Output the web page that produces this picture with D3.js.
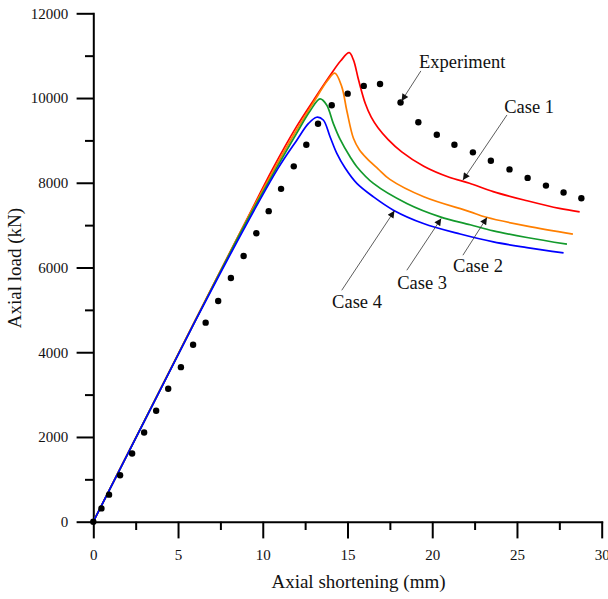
<!DOCTYPE html>
<html>
<head>
<meta charset="utf-8">
<script src="https://cdn.jsdelivr.net/npm/d3@7/dist/d3.min.js"></script>
<style>
  body { margin: 0; background: #fff; }
  svg { display: block; font-family: "Liberation Serif", "Times New Roman", serif; }
  .axis path, .axis line { stroke: #000; stroke-width: 2; }
  .axis text { font-size: 15px; fill: #111; font-family: "Liberation Serif", serif; }
</style>
</head>
<body>
<script>
// experiment (black dots)
var expX = [0, 0.48, 0.93, 1.58, 2.29, 3.0, 3.71, 4.42, 5.17, 5.89, 6.63, 7.37, 8.12, 8.87, 9.62, 10.35,
            11.08, 11.83, 12.57, 13.26, 14.07, 15.01, 15.96, 16.92, 18.13, 19.18, 20.27, 21.31, 22.40,
            23.46, 24.56, 25.63, 26.71, 27.75, 28.80];
var expY = [0, 314, 638, 1095, 1608, 2104, 2618, 3138, 3648, 4178, 4698, 5209, 5753, 6273, 6810, 7330,
            7857, 8387, 8898, 9394, 9829, 10104, 10286, 10333, 9896, 9427, 9134, 8898, 8718,
            8519, 8316, 8115, 7933, 7772, 7633];

// case 1 (red)
var c1X = [0, 3, 6, 9, 10.6, 12, 13, 14, 14.6, 15.1, 15.35, 15.65, 16.05, 16.4, 16.8, 17.4, 18.2, 19.5, 21.0, 22.2, 23.6, 25.6, 27.5, 28.7];
var c1Y = [0, 2370, 4740, 7090, 8340, 9330, 9950, 10550, 10880, 11070, 10900, 10430, 9870, 9550, 9300, 9020, 8730, 8390, 8130, 7990, 7790, 7575, 7395, 7315];
// case 2 (orange)
var c2X = [0, 3, 6, 9, 10.7, 12, 13, 13.8, 14.25, 14.66, 14.96, 15.35, 15.7, 16.14, 16.8, 17.5, 19.5, 22.2, 23.2, 25.6, 28.3];
var c2Y = [0, 2370, 4740, 7080, 8340, 9250, 9900, 10400, 10586, 10270, 9700, 9050, 8780, 8575, 8330, 8080, 7670, 7320, 7185, 6975, 6786];
// case 3 (green)
var c3X = [0, 3, 6, 9, 10.8, 12, 12.8, 13.38, 13.77, 14.16, 14.56, 15.15, 15.55, 16.53, 18.5, 20.47, 22.24, 23.61, 25.59, 27.95];
var c3Y = [0, 2365, 4730, 7050, 8340, 9170, 9700, 9978, 9836, 9403, 9030, 8614, 8380, 7985, 7512, 7196, 7010, 6864, 6708, 6550];
// case 4 (blue)
var c4X = [0, 3, 6, 9, 10.9, 12, 12.7, 13.18, 13.57, 13.97, 14.37, 14.86, 15.55, 16.53, 17.71, 19.48, 21.65, 23.61, 25.59, 27.75];
var c4Y = [0, 2360, 4720, 6990, 8340, 9000, 9400, 9546, 9482, 9087, 8694, 8347, 7985, 7668, 7354, 7039, 6790, 6604, 6471, 6344];

var xMajor = [0, 5, 10, 15, 20, 25, 30];
var xMinor = [2.5, 7.5, 12.5, 17.5, 22.5, 27.5];
var yMajor = [0, 2000, 4000, 6000, 8000, 10000, 12000];
var yMinor = [1000, 3000, 5000, 7000, 9000, 11000];

// labels with arrows: text position, arrow start, arrow tip (data units)
var labelNames = ["Experiment", "Case 1", "Case 2", "Case 3", "Case 4"];
var labelPos   = [[19.22, 10712], [24.25, 9655], [21.23, 5895], [17.93, 5502], [14.09, 5053]];
var arrowFrom  = [[19.33, 10640], [24.41, 9600], [21.81, 6290], [18.5, 5935], [14.66, 5462]];
var arrowTo    = [[18.19, 9931], [21.81, 8063], [23.23, 7181], [20.53, 7157], [17.77, 7337]];

var W = 608, H = 599;

var svg = d3.select("body").append("svg")
    .attr("width", W)
    .attr("height", H);

var x = d3.scaleLinear().domain([0, 30]).range([93.3, 601.7]);
var y = d3.scaleLinear().domain([0, 12000]).range([521.7, 13.3]);

// minor ticks
svg.append("g")
   .attr("class", "axis")
   .attr("transform", "translate(0," + y(0) + ")")
   .call(d3.axisBottom(x).tickValues(xMinor).tickSize(8.3).tickSizeOuter(0).tickFormat(""))
   .select(".domain").remove();
svg.append("g")
   .attr("class", "axis")
   .attr("transform", "translate(" + x(0) + ",0)")
   .call(d3.axisLeft(y).tickValues(yMinor).tickSize(8.3).tickSizeOuter(0).tickFormat(""))
   .select(".domain").remove();

// major ticks + axis lines
svg.append("g")
   .attr("class", "axis")
   .attr("transform", "translate(0," + y(0) + ")")
   .call(d3.axisBottom(x).tickValues(xMajor).tickSize(16.7).tickSizeOuter(0).tickPadding(11).tickFormat(d3.format("d")));
svg.append("g")
   .attr("class", "axis")
   .attr("transform", "translate(" + x(0) + ",0)")
   .call(d3.axisLeft(y).tickValues(yMajor).tickSize(16.7).tickSizeOuter(0).tickPadding(8.3).tickFormat(d3.format("d")));

svg.selectAll(".domain").attr("stroke-linecap", "square");

// axis titles
svg.append("text")
   .attr("x", 358.5)
   .attr("y", 588)
   .attr("text-anchor", "middle")
   .attr("font-size", 19)
   .attr("fill", "#111")
   .text("Axial shortening (mm)");

svg.append("text")
   .attr("transform", "translate(21,268) rotate(-90)")
   .attr("text-anchor", "middle")
   .attr("font-size", 19)
   .attr("fill", "#111")
   .text("Axial load (kN)");

// curves
var line = d3.line()
    .x(function(d) { return x(d[0]); })
    .y(function(d) { return y(d[1]); })
    .curve(d3.curveCatmullRom.alpha(0.5));

var cases = [
  {xs: c1X, ys: c1Y, color: "#ff0000"},
  {xs: c2X, ys: c2Y, color: "#ff7f00"},
  {xs: c3X, ys: c3Y, color: "#139a2c"},
  {xs: c4X, ys: c4Y, color: "#0000ff"}
];

cases.forEach(function(c) {
  var pts = c.xs.map(function(v, i) { return [v, c.ys[i]]; });
  svg.append("path")
     .datum(pts)
     .attr("fill", "none")
     .attr("stroke", c.color)
     .attr("stroke-width", 1.7)
     .attr("d", line);
});

// experiment dots
var expPts = expX.map(function(v, i) { return [v, expY[i]]; });
svg.selectAll(".dot")
   .data(expPts)
   .enter().append("circle")
   .attr("class", "dot")
   .attr("cx", function(d) { return x(d[0]); })
   .attr("cy", function(d) { return y(d[1]); })
   .attr("r", 3.2)
   .attr("fill", "#000");

// arrow marker
svg.append("defs").append("marker")
   .attr("id", "arrow")
   .attr("markerUnits", "userSpaceOnUse")
   .attr("viewBox", "0 0 10 10")
   .attr("refX", 10)
   .attr("refY", 5)
   .attr("markerWidth", 9)
   .attr("markerHeight", 7)
   .attr("orient", "auto")
   .append("path")
   .attr("d", "M0,0 L10,5 L0,10 Z")
   .attr("fill", "#111");

labelNames.forEach(function(name, i) {
  svg.append("line")
     .attr("x1", x(arrowFrom[i][0]))
     .attr("y1", y(arrowFrom[i][1]))
     .attr("x2", x(arrowTo[i][0]))
     .attr("y2", y(arrowTo[i][1]))
     .attr("stroke", "#333")
     .attr("stroke-width", 0.8)
     .attr("marker-end", "url(#arrow)");

  svg.append("text")
     .attr("x", x(labelPos[i][0]))
     .attr("y", y(labelPos[i][1]))
     .attr("font-size", 18.5)
     .attr("fill", "#111")
     .text(name);
});
</script>
</body>
</html>
